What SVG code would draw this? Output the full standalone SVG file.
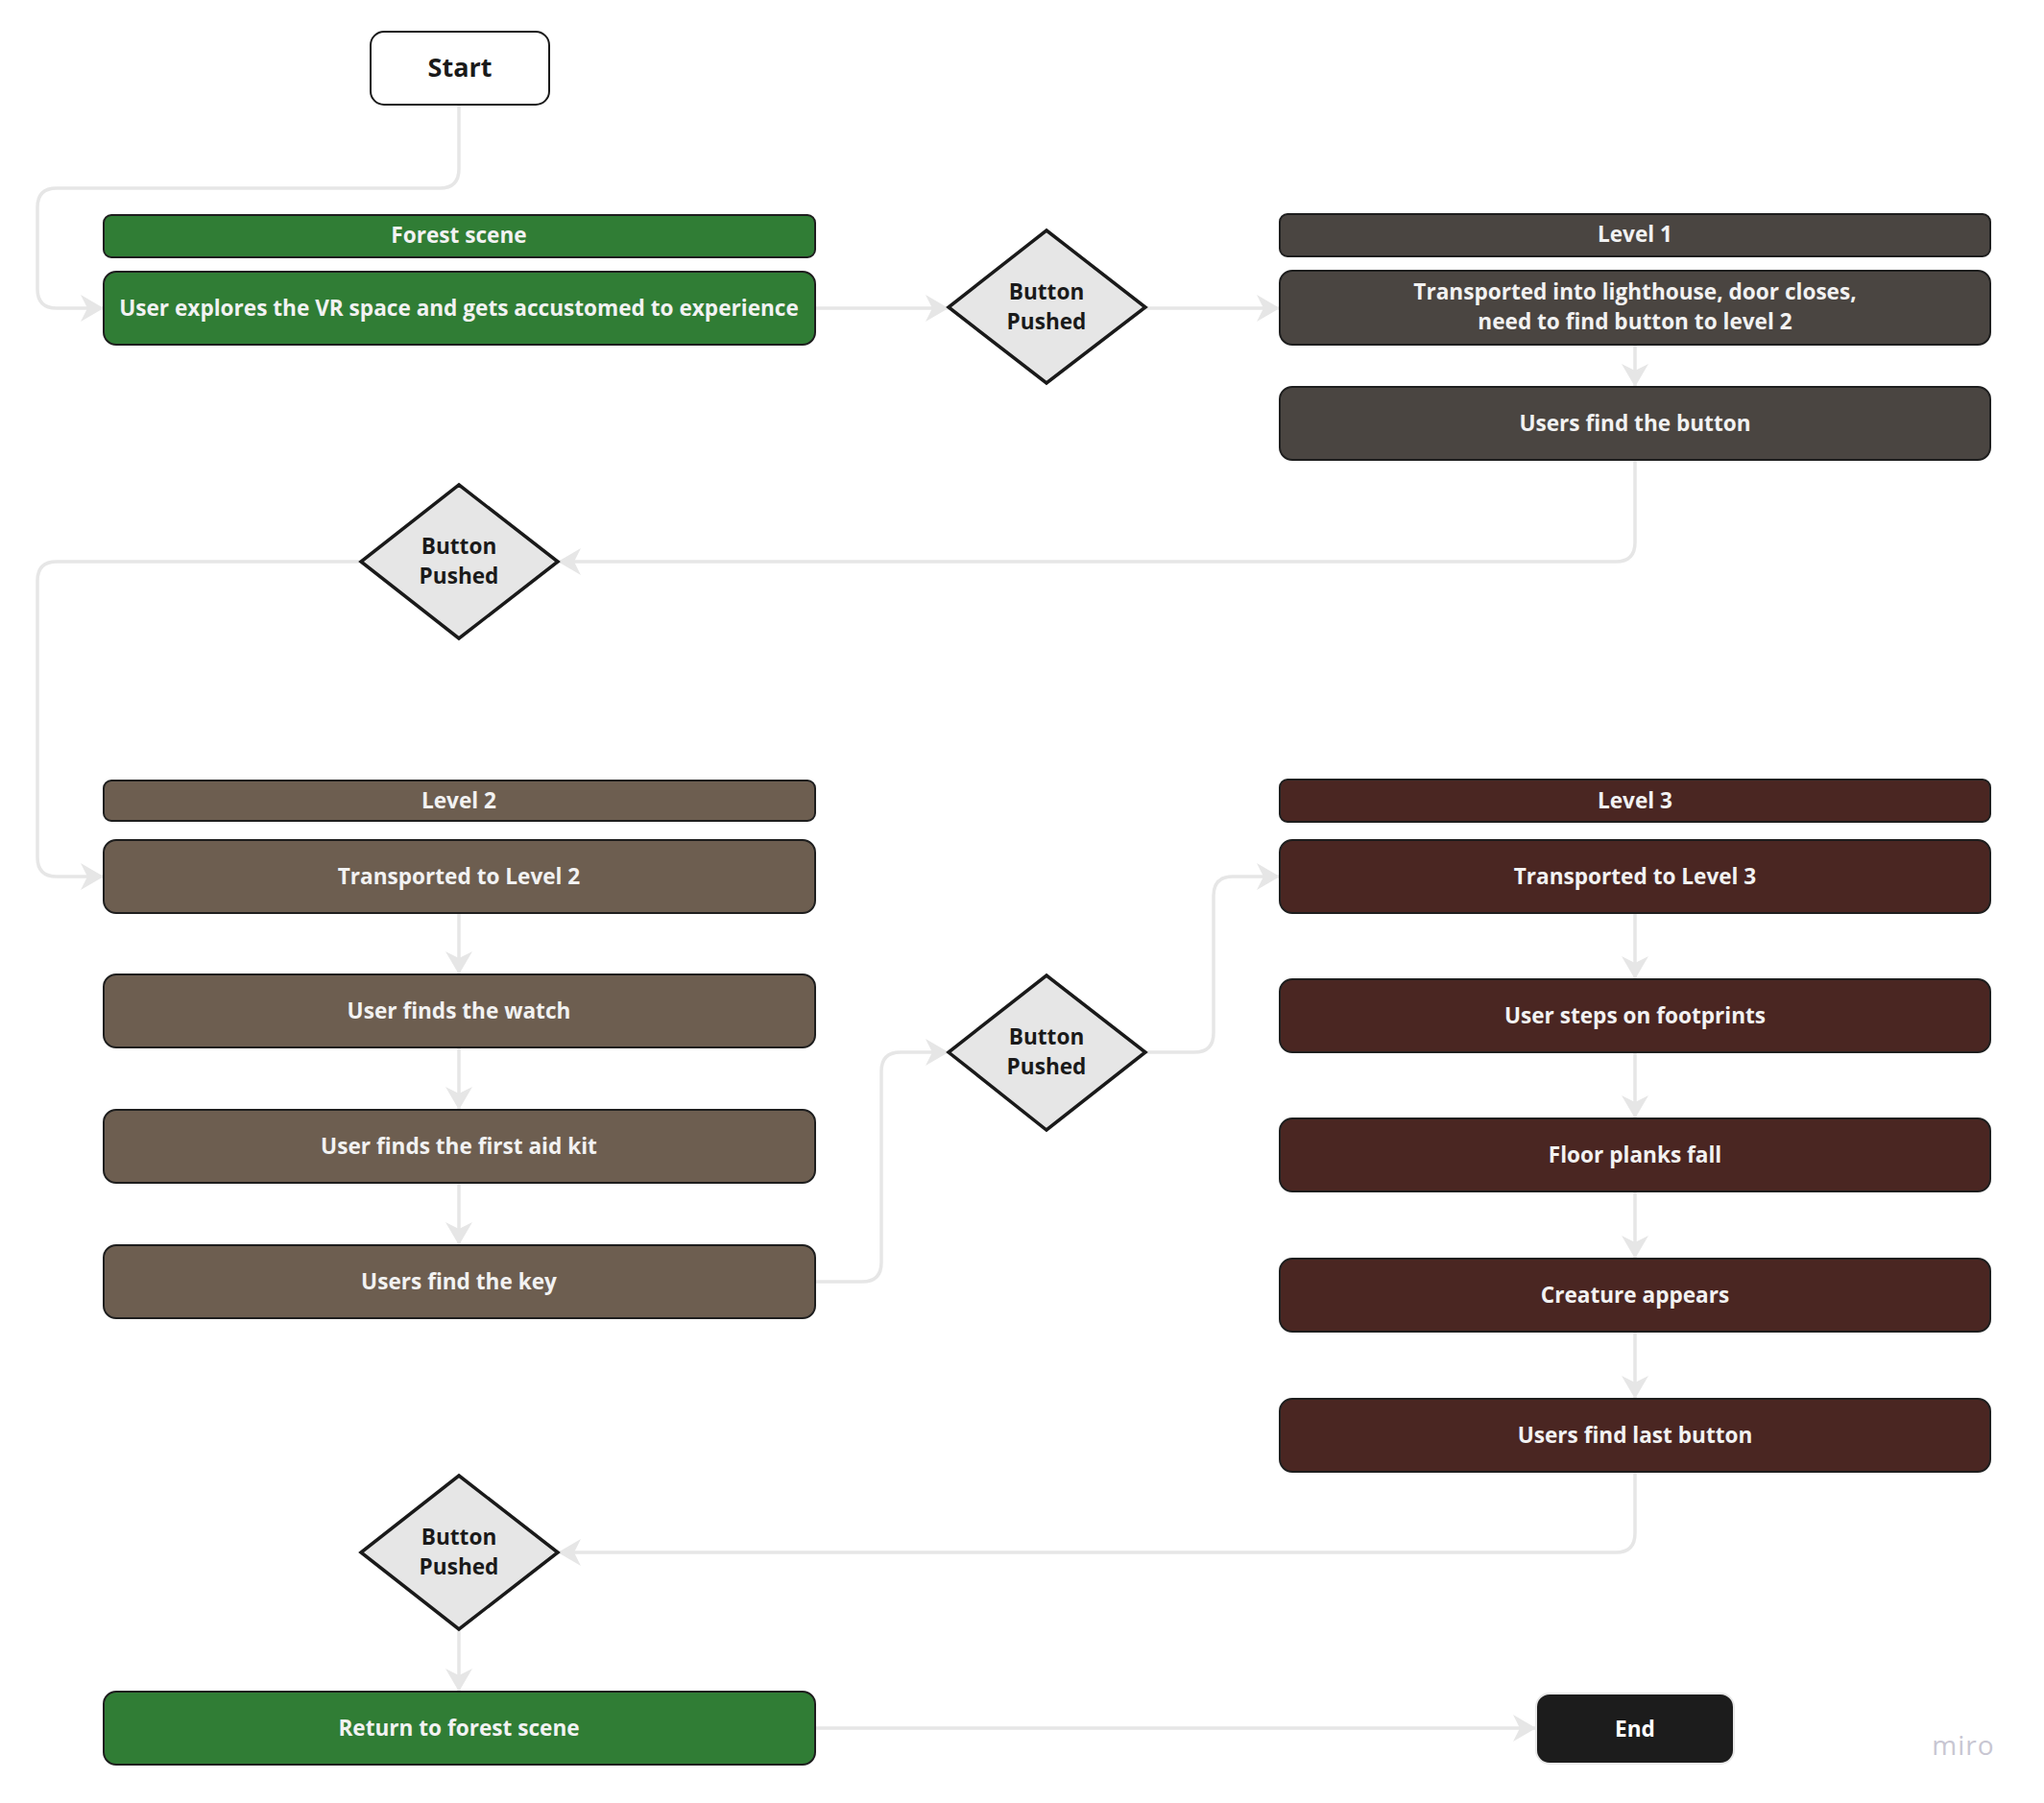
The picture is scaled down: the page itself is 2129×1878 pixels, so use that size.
<svg xmlns="http://www.w3.org/2000/svg" width="2129" height="1878" viewBox="0 0 2129 1878">
<defs>
<style>
.box{stroke:#1e1e1e;stroke-width:2}
.forest{fill:#307d35}
.l1{fill:#4a4541}
.l2{fill:#6d5e50}
.l3{fill:#4a2622}
.dia{fill:#e6e6e6;stroke:#1a1a1a;stroke-width:3.5;stroke-linejoin:miter}
.t{font-family:"Open Sans","Noto Sans","Liberation Sans",sans-serif;font-weight:700;font-size:22.6px;text-anchor:middle;fill:#f2f2f2}
.td{fill:#1a1a1a}
.conn{fill:none;stroke:#e6e6e6;stroke-width:3.5;marker-end:url(#arr)}
</style>
<marker id="arr" markerUnits="userSpaceOnUse" markerWidth="26" markerHeight="30" refX="24" refY="14" orient="auto">
<path d="M0,0 L24,14 L0,28 L7,14 z" fill="#e6e6e6"/>
</marker>
</defs>
<rect width="2129" height="1878" fill="#ffffff"/>

<g id="connectors">
<path class="conn" d="M478,109 V176 Q478,196 458,196 H59 Q39,196 39,216 V301 Q39,321 59,321 H108"/>
<path class="conn" d="M849,321 H988"/>
<path class="conn" d="M1193,321 H1333"/>
<path class="conn" d="M1703,359 V403"/>
<path class="conn" d="M1703,479 V565 Q1703,585 1683,585 H581"/>
<path class="conn" d="M376,585 H59 Q39,585 39,605 V893 Q39,913 59,913 H108"/>
<path class="conn" d="M478,951 V1015"/>
<path class="conn" d="M478,1091 V1156"/>
<path class="conn" d="M478,1232 V1297"/>
<path class="conn" d="M849,1335 H898 Q918,1335 918,1315 V1116 Q918,1096 938,1096 H988"/>
<path class="conn" d="M1193,1096 H1244 Q1264,1096 1264,1076 V933 Q1264,913 1284,913 H1333"/>
<path class="conn" d="M1703,951 V1020"/>
<path class="conn" d="M1703,1096 V1165"/>
<path class="conn" d="M1703,1241 V1311"/>
<path class="conn" d="M1703,1387 V1457"/>
<path class="conn" d="M1703,1533 V1597 Q1703,1617 1683,1617 H581"/>
<path class="conn" d="M478,1697 V1762"/>
<path class="conn" d="M849,1800 H1600"/>
</g>

<g id="start">
<rect x="386" y="33" width="186" height="76" rx="14" fill="#ffffff" stroke="#1a1a1a" stroke-width="2"/>
<text class="t td" x="479" y="80" style="font-size:27px">Start</text>
</g>

<g id="forest-header">
<rect class="box forest" x="108" y="224" width="741" height="44" rx="8"/>
<text class="t" x="478" y="253">Forest scene</text>
</g>
<g id="user-explores">
<rect class="box forest" x="108" y="283" width="741" height="76" rx="13"/>
<text class="t" x="478" y="329">User explores the VR space and gets accustomed to experience</text>
</g>

<g id="diamond1">
<polygon class="dia" points="1090,240 1193,320 1090,399 988,320"/>
<text class="t td" x="1090" y="312">Button</text>
<text class="t td" x="1090" y="343">Pushed</text>
</g>

<g id="level1-header">
<rect class="box l1" x="1333" y="223" width="740" height="44" rx="8"/>
<text class="t" x="1703" y="252">Level 1</text>
</g>
<g id="l1-transported">
<rect class="box l1" x="1333" y="282" width="740" height="77" rx="13"/>
<text class="t" x="1703" y="312">Transported into lighthouse, door closes,</text>
<text class="t" x="1703" y="343">need to find button to level 2</text>
</g>
<g id="l1-find-button">
<rect class="box l1" x="1333" y="403" width="740" height="76" rx="13"/>
<text class="t" x="1703" y="449">Users find the button</text>
</g>

<g id="diamond2">
<polygon class="dia" points="478,505 581,585 478,665 376,585"/>
<text class="t td" x="478" y="577">Button</text>
<text class="t td" x="478" y="608">Pushed</text>
</g>

<g id="level2-header">
<rect class="box l2" x="108" y="813" width="741" height="42" rx="8"/>
<text class="t" x="478" y="842">Level 2</text>
</g>
<g id="l2-transported">
<rect class="box l2" x="108" y="875" width="741" height="76" rx="13"/>
<text class="t" x="478" y="921">Transported to Level 2</text>
</g>
<g id="l2-watch">
<rect class="box l2" x="108" y="1015" width="741" height="76" rx="13"/>
<text class="t" x="478" y="1061">User finds the watch</text>
</g>
<g id="l2-firstaid">
<rect class="box l2" x="108" y="1156" width="741" height="76" rx="13"/>
<text class="t" x="478" y="1202">User finds the first aid kit</text>
</g>
<g id="l2-key">
<rect class="box l2" x="108" y="1297" width="741" height="76" rx="13"/>
<text class="t" x="478" y="1343">Users find the key</text>
</g>

<g id="diamond3">
<polygon class="dia" points="1090,1016 1193,1096 1090,1177 988,1096"/>
<text class="t td" x="1090" y="1088">Button</text>
<text class="t td" x="1090" y="1119">Pushed</text>
</g>

<g id="level3-header">
<rect class="box l3" x="1333" y="812" width="740" height="44" rx="8"/>
<text class="t" x="1703" y="842">Level 3</text>
</g>
<g id="l3-transported">
<rect class="box l3" x="1333" y="875" width="740" height="76" rx="13"/>
<text class="t" x="1703" y="921">Transported to Level 3</text>
</g>
<g id="l3-footprints">
<rect class="box l3" x="1333" y="1020" width="740" height="76" rx="13"/>
<text class="t" x="1703" y="1066">User steps on footprints</text>
</g>
<g id="l3-planks">
<rect class="box l3" x="1333" y="1165" width="740" height="76" rx="13"/>
<text class="t" x="1703" y="1211">Floor planks fall</text>
</g>
<g id="l3-creature">
<rect class="box l3" x="1333" y="1311" width="740" height="76" rx="13"/>
<text class="t" x="1703" y="1357">Creature appears</text>
</g>
<g id="l3-last-button">
<rect class="box l3" x="1333" y="1457" width="740" height="76" rx="13"/>
<text class="t" x="1703" y="1503">Users find last button</text>
</g>

<g id="diamond4">
<polygon class="dia" points="478,1537 581,1617 478,1697 376,1617"/>
<text class="t td" x="478" y="1609">Button</text>
<text class="t td" x="478" y="1640">Pushed</text>
</g>

<g id="return-forest">
<rect class="box forest" x="108" y="1762" width="741" height="76" rx="13"/>
<text class="t" x="478" y="1808">Return to forest scene</text>
</g>

<g id="end">
<rect x="1600" y="1764" width="206" height="73" rx="14" fill="#1c1c1c" stroke="#e8e8e8" stroke-width="2"/>
<text class="t" x="1703" y="1809" style="fill:#ffffff">End</text>
</g>

<text x="2045" y="1828" style="font-family:'Open Sans','Noto Sans',sans-serif;font-size:28px;fill:#c8c6d2;text-anchor:middle;letter-spacing:1px">miro</text>
</svg>
